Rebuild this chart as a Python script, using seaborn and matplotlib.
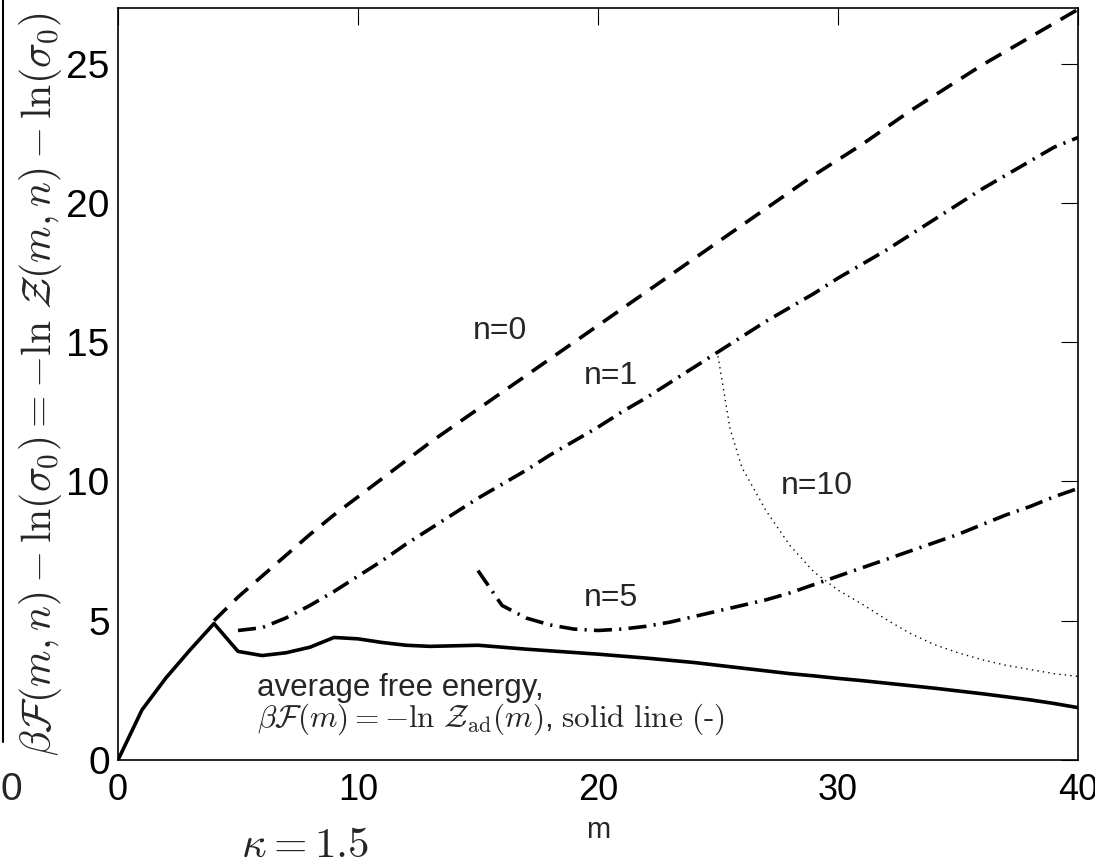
import numpy as np
import pandas as pd
import matplotlib
matplotlib.use("Agg")
import matplotlib.pyplot as plt
import seaborn as sns
from matplotlib.lines import Line2D

# ---- data ----
m_avg = list(range(0, 41))
f_avg = [0.0, 1.8, 2.95, 3.95, 4.9, 3.9, 3.75, 3.85, 4.05, 4.4, 4.35,
         4.22, 4.12, 4.08, 4.1, 4.12, 4.05, 3.98, 3.92, 3.86, 3.8,
         3.73, 3.66, 3.58, 3.5, 3.4, 3.3, 3.2, 3.1, 3.02, 2.93,
         2.85, 2.76, 2.67, 2.58, 2.48, 2.38, 2.27, 2.16, 2.03, 1.88]

m_n0 = list(range(4, 41))
f_n0 = [5.0, 5.85, 6.6, 7.35, 8.1, 8.8, 9.45, 10.1, 10.75, 11.4, 12.0,
        12.6, 13.2, 13.8, 14.4, 15.0, 15.6, 16.2, 16.8, 17.4, 18.0,
        18.6, 19.2, 19.8, 20.4, 21.0, 21.55, 22.1, 22.7, 23.3, 23.85,
        24.4, 24.95, 25.45, 25.95, 26.45, 26.95]

m_n1 = list(range(5, 41))
f_n1 = [4.65, 4.75, 5.1, 5.55, 6.05, 6.6, 7.15, 7.75, 8.3, 8.85, 9.4,
        9.9, 10.4, 10.95, 11.45, 11.95, 12.5, 13.0, 13.55, 14.1, 14.65,
        15.2, 15.75, 16.25, 16.75, 17.3, 17.8, 18.3, 18.85, 19.4, 19.95,
        20.5, 21.0, 21.5, 22.0, 22.35]

m_n5 = list(range(15, 41))
f_n5 = [6.8, 5.55, 5.1, 4.85, 4.7, 4.65, 4.7, 4.8, 4.95, 5.15, 5.35,
        5.55, 5.75, 6.0, 6.3, 6.6, 6.9, 7.2, 7.5, 7.8, 8.1,
        8.45, 8.8, 9.1, 9.45, 9.75]

m_n10 = [25, 25.5, 26, 27, 28, 29, 30, 31, 32, 33, 34, 35, 36, 37, 38, 39, 40]
f_n10 = [14.5, 11.9, 10.5, 8.95, 7.7, 6.75, 6.1, 5.6, 5.05, 4.55, 4.15,
         3.85, 3.6, 3.4, 3.25, 3.1, 3.0]

x_ticks = [0, 10, 20, 30, 40]
y_ticks = [0, 5, 10, 15, 20, 25]

# ---- style ----
sns.set_style("white")
plt.rcParams['font.family'] = ['Liberation Sans', 'DejaVu Sans']
plt.rcParams['mathtext.fontset'] = 'cm'

fig = plt.figure(figsize=(10.95, 8.67), dpi=100)
ax = fig.add_axes([118/1095, 1-760/867, (1078-118)/1095, (760-8)/867])

df_avg = pd.DataFrame({"m": m_avg, "F": f_avg})
df_n0 = pd.DataFrame({"m": m_n0, "F": f_n0})
df_n1 = pd.DataFrame({"m": m_n1, "F": f_n1})
df_n5 = pd.DataFrame({"m": m_n5, "F": f_n5})
df_n10 = pd.DataFrame({"m": m_n10, "F": f_n10})

sns.lineplot(data=df_avg, x="m", y="F", ax=ax, color="k", lw=2.6, linestyle="-")
sns.lineplot(data=df_n0, x="m", y="F", ax=ax, color="k", lw=2.6, linestyle=(0, (5, 3)))
sns.lineplot(data=df_n1, x="m", y="F", ax=ax, color="k", lw=2.6, linestyle=(0, (5, 2, 0.6, 2)))
sns.lineplot(data=df_n5, x="m", y="F", ax=ax, color="k", lw=2.6, linestyle=(0, (5, 2, 0.6, 2)))
sns.lineplot(data=df_n10, x="m", y="F", ax=ax, color="k", lw=1.0, linestyle=(0, (1, 3)))

ax.set_xlim(0, 40)
ax.set_ylim(0, 27)
ax.set_xticks(x_ticks)
ax.set_yticks(y_ticks)
ax.tick_params(direction="in", top=True, right=True, length=12, width=0.8,
               labelsize=28, colors="k")
ax.tick_params(axis="x", pad=9, labelsize=26)
ax.tick_params(axis="y", pad=6)
for s in ax.spines.values():
    s.set_linewidth(1.2)
    s.set_color("k")

ax.set_xlabel("m", fontsize=21, labelpad=6)
ax.set_ylabel(r"$\beta\mathcal{F}(m,n)-\ln(\sigma_0)=-\ln\,\mathcal{Z}(m,n)-\ln(\sigma_0)$",
              fontsize=30, labelpad=2)

ax.text(14.8, 15.4, "n=0", fontsize=23, ha="left", va="center")
ax.text(19.4, 13.8, "n=1", fontsize=23, ha="left", va="center")
ax.text(27.6, 9.85, "n=10", fontsize=23, ha="left", va="center")
ax.text(19.4, 5.8, "n=5", fontsize=23, ha="left", va="center")
ax.text(5.8, 2.6, "average free energy,", fontsize=22.5, ha="left", va="center")
ax.text(5.8, 1.45, r"$\beta\mathcal{F}(m)=-\ln\,\mathcal{Z}_{\rm ad}(m)$, $\rm solid\ line\ (\text{-})$",
        fontsize=22.5, ha="left", va="center")

fig.text(305/1095, 1-846/867, r"$\kappa = 1.5$", fontsize=31, ha="center", va="center")
fig.text(11/1095, 1-790/867, "0", fontsize=28, ha="center", va="center")
fig.add_artist(Line2D([3/1095, 3/1095], [1-742/867, 1.0], color="k", lw=1.5))

fig.savefig("out.png", dpi=100)
